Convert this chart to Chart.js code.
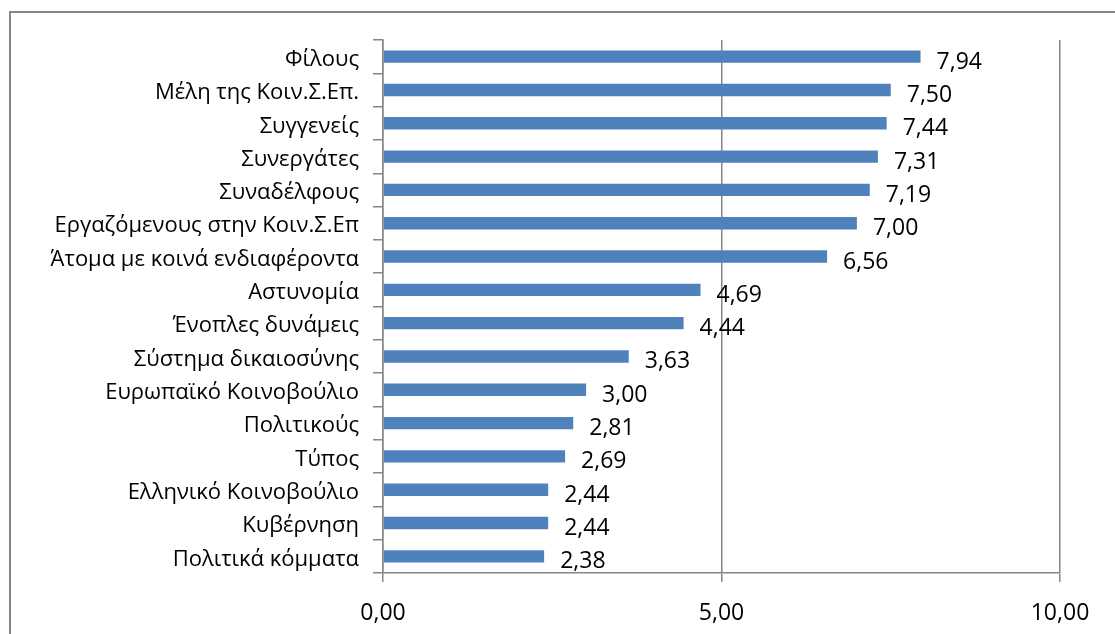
<!DOCTYPE html>
<html lang="el">
<head>
  <meta charset="UTF-8">
  <title>Εμπιστοσύνη</title>
  <script src="https://cdn.jsdelivr.net/npm/chart.js"></script>
  <style>
    html, body { margin: 0; padding: 0; background: #fff; overflow: hidden; }
    #wrap { position: relative; width: 1115px; height: 634px; }
  </style>
</head>
<body>
  <div id="wrap"><canvas id="trustChart"></canvas></div>
  <script>
    // δεδομένα
    const categories = [
      "Φίλους", "Μέλη της Κοιν.Σ.Επ.", "Συγγενείς", "Συνεργάτες", "Συναδέλφους",
      "Εργαζόμενους στην Κοιν.Σ.Επ", "Άτομα με κοινά ενδιαφέροντα", "Αστυνομία",
      "Ένοπλες δυνάμεις", "Σύστημα δικαιοσύνης", "Ευρωπαϊκό Κοινοβούλιο", "Πολιτικούς",
      "Τύπος", "Ελληνικό Κοινοβούλιο", "Κυβέρνηση", "Πολιτικά κόμματα"
    ];
    const values = [7.94, 7.50, 7.44, 7.31, 7.19, 7.00, 6.56, 4.69, 4.44, 3.63, 3.00, 2.81, 2.69, 2.44, 2.44, 2.38];
    const xTicks = [0, 5, 10];

    const FONT = "'Open Sans', 'Noto Sans', sans-serif";
    const GRAY = "#868686";
    const fmt = v => v.toFixed(2).replace(".", ",");

    // πλαίσιο γραφήματος
    const framePlugin = {
      id: "frame",
      beforeDraw(chart) {
        const c = chart.ctx;
        c.save();
        c.strokeStyle = GRAY;
        c.lineWidth = 2;
        c.beginPath();
        c.moveTo(10, 700);
        c.lineTo(10, 12);
        c.lineTo(1200, 12);
        c.stroke();
        c.restore();
      }
    };

    // ετικέτες τιμών
    const valueLabels = {
      id: "valueLabels",
      afterDatasetsDraw(chart) {
        const c = chart.ctx;
        const meta = chart.getDatasetMeta(0);
        c.save();
        c.font = "23px " + FONT;
        c.fillStyle = "#000";
        c.textAlign = "left";
        c.textBaseline = "alphabetic";
        meta.data.forEach((bar, i) => {
          c.fillText(fmt(values[i]), bar.x + 16, bar.y + 12);
        });
        c.restore();
      }
    };

    new Chart(document.getElementById("trustChart"), {
      type: "bar",
      data: {
        labels: categories,
        datasets: [{
          data: values,
          backgroundColor: "#4F81BD",
          borderWidth: 0,
          categoryPercentage: 1,
          barPercentage: 0.37
        }]
      },
      plugins: [framePlugin, valueLabels],
      options: {
        indexAxis: "y",
        responsive: true,
        maintainAspectRatio: false,
        animation: false,
        layout: { padding: { left: 0, right: 55, top: 40, bottom: 0 } },
        plugins: { legend: { display: false }, tooltip: { enabled: false } },
        scales: {
          x: {
            min: 0,
            max: 10,
            afterBuildTicks(scale) { scale.ticks = xTicks.map(v => ({ value: v })); },
            afterFit(scale) { scale.height = 61; },
            ticks: {
              font: { family: FONT, size: 23 },
              color: "#000",
              padding: 18,
              maxRotation: 0,
              callback: v => fmt(v)
            },
            grid: { color: GRAY, lineWidth: 1.5, tickLength: 9 },
            border: { color: GRAY, width: 1.5 }
          },
          y: {
            afterFit(scale) { scale.width = 383; },
            ticks: {
              font: { family: FONT, size: 22 },
              color: "#000",
              padding: 14,
              labelOffset: 3,
              autoSkip: false
            },
            grid: { drawOnChartArea: false, color: GRAY, lineWidth: 1.5, tickLength: 10, offset: true },
            border: { color: GRAY, width: 1.5 }
          }
        }
      }
    });
  </script>
</body>
</html>
